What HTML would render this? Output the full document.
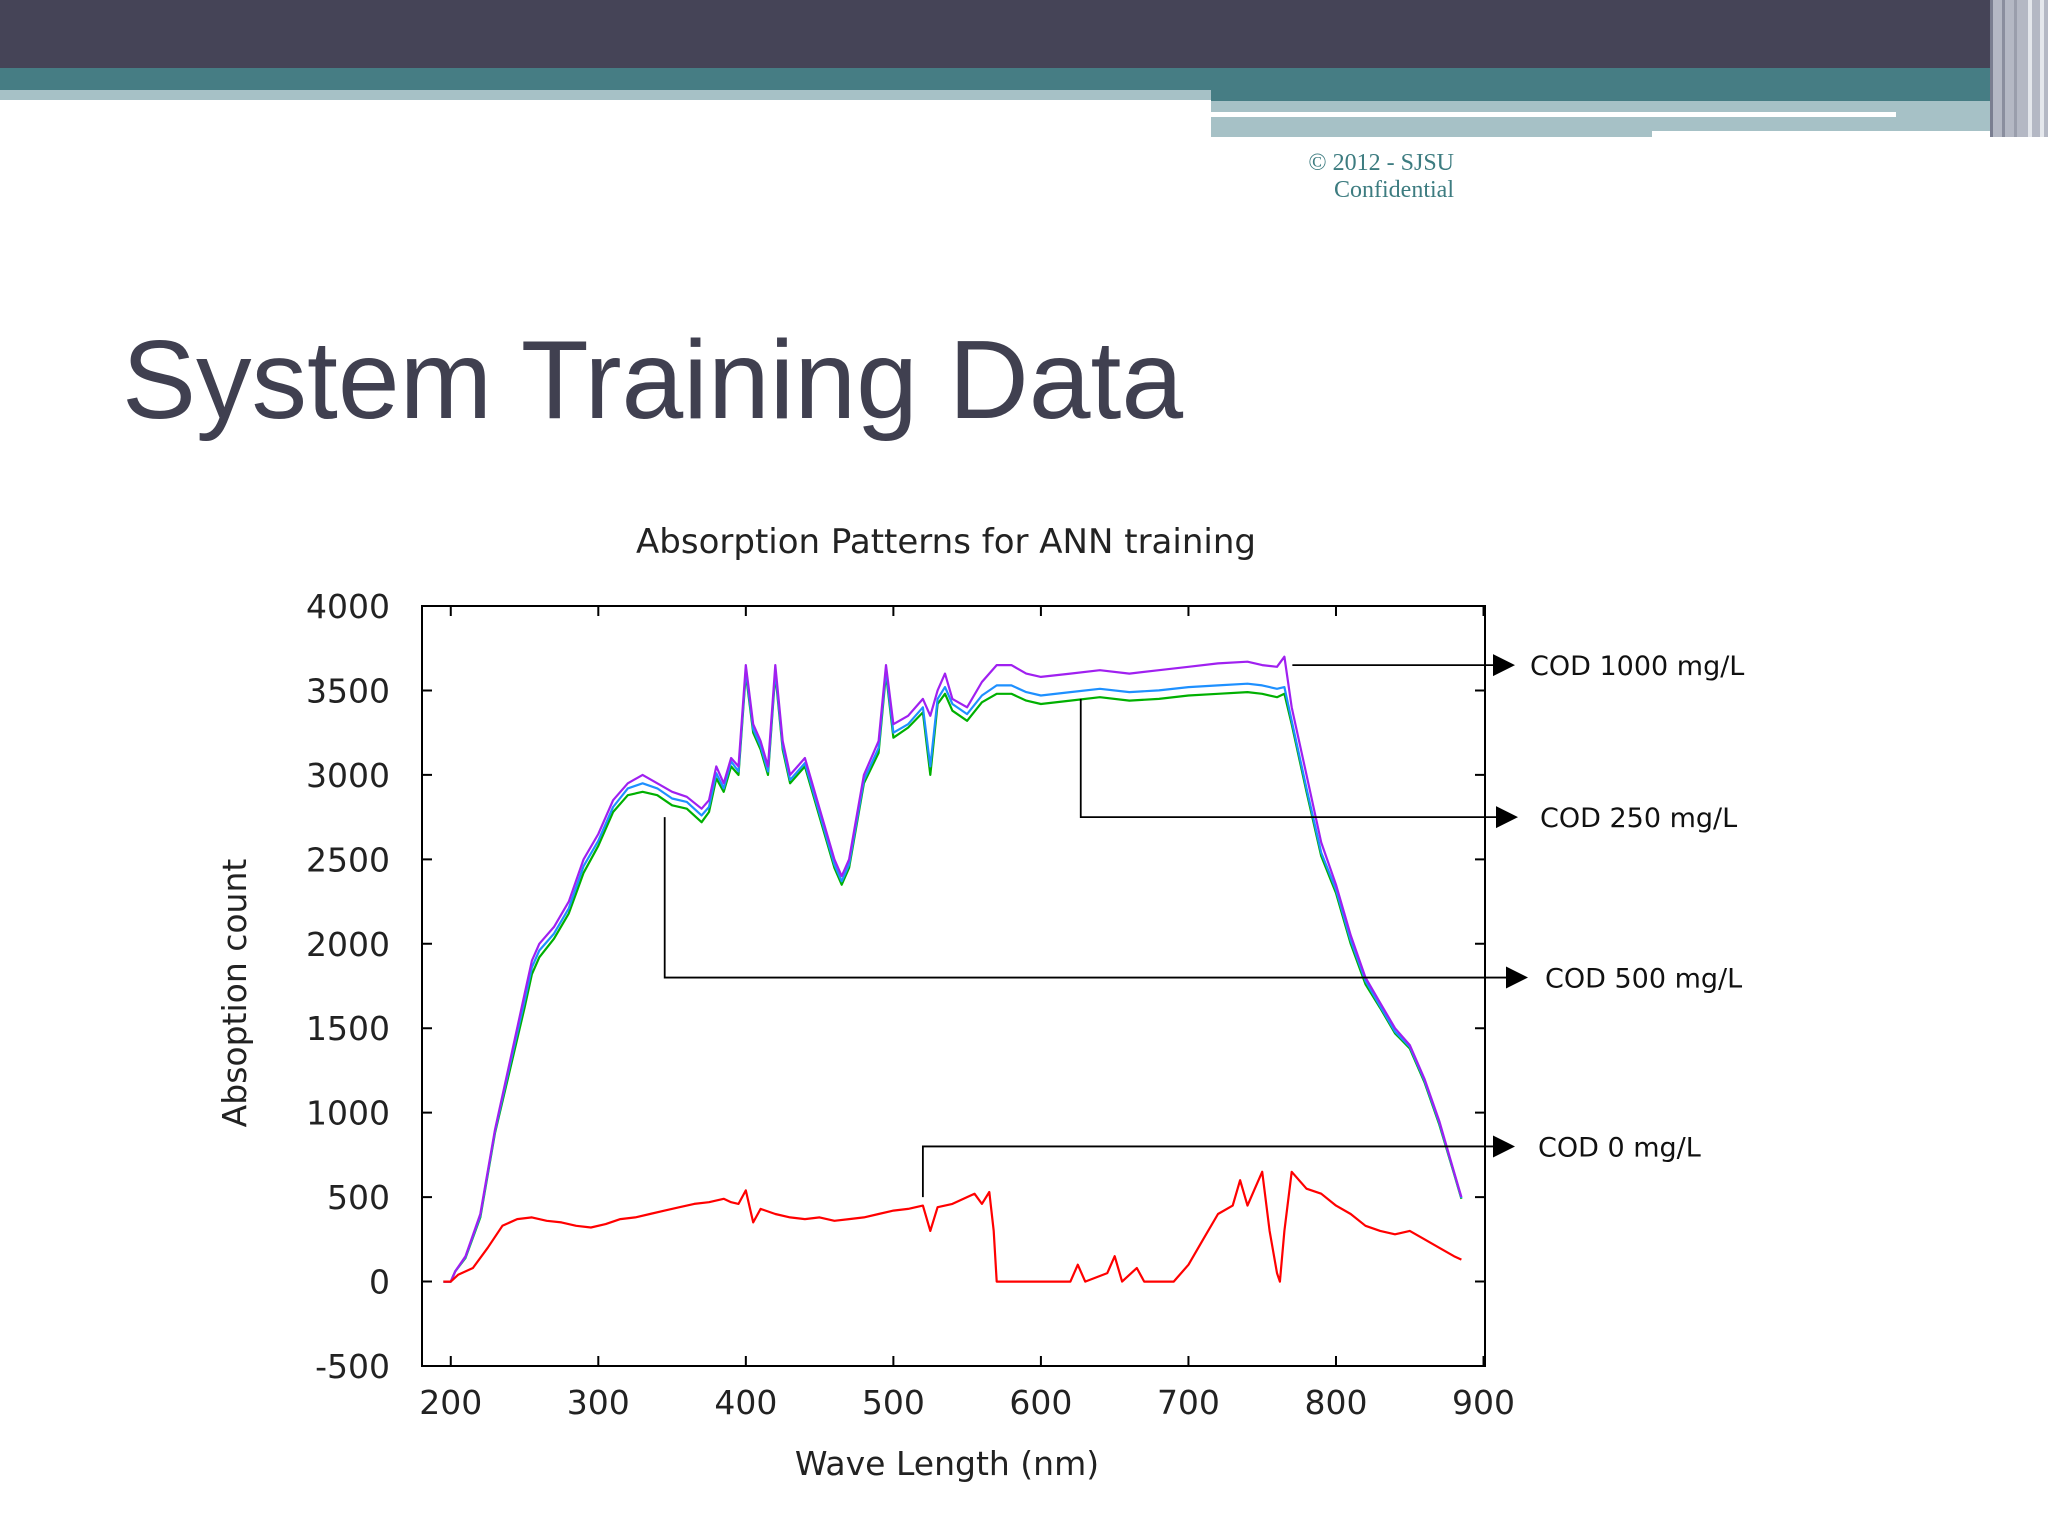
<!DOCTYPE html>
<html><head><meta charset="utf-8"><style>
html,body{margin:0;padding:0;background:#fff;width:2048px;height:1536px;overflow:hidden}
svg{display:block}
</style></head><body>
<svg id="s" width="2048" height="1536" viewBox="0 0 2048 1536" xmlns="http://www.w3.org/2000/svg">
<g>
<rect x="0" y="0" width="2048" height="68" fill="#454457"/>
<rect x="0" y="68" width="2048" height="22" fill="#467d84"/>
<rect x="0" y="90" width="1211" height="10" fill="#a6c1c6"/>
<rect x="1211" y="90" width="837" height="11" fill="#467d84"/>
<rect x="1211" y="101" width="780" height="36" fill="#a6c1c6"/>
<rect x="1211" y="112" width="685" height="5" fill="#ffffff"/>
<rect x="1652" y="131" width="358" height="6" fill="#ffffff"/>
<rect x="1990" y="0" width="58" height="137" fill="#b4b8c4"/>
<rect x="1990" y="0" width="3" height="137" fill="#7a7e90"/>
<rect x="2002" y="0" width="3" height="137" fill="#8a8e9e"/>
<rect x="2014" y="0" width="3" height="137" fill="#9a9eac"/>
<rect x="2028" y="0" width="4" height="137" fill="#e4e7ec"/>
<rect x="2040" y="0" width="4" height="137" fill="#e4e7ec"/>
</g>
<text x="1454" y="170" text-anchor="end" font-family="Liberation Serif, serif" font-size="24" fill="#3d7c80">© 2012 - SJSU</text>
<text x="1454" y="197" text-anchor="end" font-family="Liberation Serif, serif" font-size="24" fill="#3d7c80">Confidential</text>
<text x="122" y="418" font-family="Liberation Sans, sans-serif" font-size="111" fill="#404050">System Training Data</text>
<text x="946" y="553" text-anchor="middle" font-family="DejaVu Sans, sans-serif" font-size="34" fill="#222">Absorption Patterns for ANN training</text>
<text transform="translate(246,993) rotate(-90)" text-anchor="middle" font-family="DejaVu Sans, sans-serif" font-size="33" fill="#222">Absoption count</text>
<text x="947" y="1475" text-anchor="middle" font-family="DejaVu Sans, sans-serif" font-size="33" fill="#222">Wave Length (nm)</text>
<g id="plot"></g>
</svg>
<script>
const xTicks=[200,300,400,500,600,700,800,900];
const yTicks=[-500,0,500,1000,1500,2000,2500,3000,3500,4000];
const wl=[195,200,203,210,220,230,240,250,255,260,270,280,290,300,310,320,330,340,350,360,370,375,380,385,390,395,400,405,410,415,420,425,430,440,450,460,465,470,480,490,495,500,510,520,525,530,535,540,550,560,570,580,590,600,620,640,660,680,700,720,740,750,760,765,770,780,790,800,810,820,830,840,850,860,870,880,885];
const cod1000=[0,0,60,150,400,900,1300,1700,1900,2000,2100,2250,2500,2650,2850,2950,3000,2950,2900,2870,2800,2850,3050,2950,3100,3050,3650,3300,3200,3050,3650,3200,3000,3100,2800,2500,2400,2500,3000,3200,3650,3300,3350,3450,3350,3500,3600,3450,3400,3550,3650,3650,3600,3580,3600,3620,3600,3620,3640,3660,3670,3650,3640,3700,3400,3000,2600,2350,2050,1800,1650,1500,1400,1200,950,650,500];
const cod500=[0,0,60,140,380,880,1250,1620,1820,1920,2030,2180,2420,2580,2780,2880,2900,2880,2820,2800,2720,2780,2980,2900,3050,3000,3600,3250,3150,3000,3600,3150,2950,3050,2750,2450,2350,2450,2950,3130,3600,3220,3280,3370,3000,3420,3480,3380,3320,3430,3480,3480,3440,3420,3440,3460,3440,3450,3470,3480,3490,3480,3460,3480,3300,2900,2520,2300,2000,1760,1620,1470,1380,1180,930,640,490];
const cod250=[0,0,60,145,390,890,1280,1660,1860,1960,2060,2210,2460,2610,2810,2920,2950,2920,2860,2840,2760,2810,3010,2920,3080,3020,3620,3270,3170,3020,3620,3170,2970,3070,2770,2470,2370,2470,2970,3160,3620,3250,3300,3400,3050,3450,3520,3420,3360,3470,3530,3530,3490,3470,3490,3510,3490,3500,3520,3530,3540,3530,3510,3520,3320,2920,2540,2320,2020,1780,1630,1480,1390,1190,940,645,495];
const wl0=[195,200,205,215,225,235,245,255,265,275,285,295,305,315,325,335,345,355,365,375,385,390,395,400,405,410,420,430,440,450,460,470,480,490,500,510,520,525,530,540,550,555,560,565,568,570,580,620,625,630,645,650,655,665,670,690,700,710,720,730,735,740,745,750,755,760,762,765,770,780,790,800,810,820,830,840,850,860,870,880,885];
const cod0=[0,0,40,80,200,330,370,380,360,350,330,320,340,370,380,400,420,440,460,470,490,470,460,540,350,430,400,380,370,380,360,370,380,400,420,430,450,300,440,460,500,520,460,530,300,0,0,0,100,0,50,150,0,80,0,0,100,250,400,450,600,450,550,650,300,50,0,300,650,550,520,450,400,330,300,280,300,250,200,150,130];
const annLabels=["COD 1000 mg/L","COD 250 mg/L","COD 500 mg/L","COD 0 mg/L"];
const NS='http://www.w3.org/2000/svg';
const L=422,R=1485,T=606,B=1366,XMIN=180.5,XMAX=901,YMIN=-500,YMAX=4000;
const sx=v=>L+(v-XMIN)/(XMAX-XMIN)*(R-L);
const sy=v=>B-(v-YMIN)/(YMAX-YMIN)*(B-T);
const g=document.getElementById('plot');
function mk(tag,at){const e=document.createElementNS(NS,tag);for(const k in at)e.setAttribute(k,at[k]);g.appendChild(e);return e;}
const frame=mk('rect',{x:L,y:T,width:R-L,height:B-T,fill:'none',stroke:'#000','stroke-width':2});


xTicks.forEach(v=>{
 const t=mk('path',{d:`M${sx(v)},${B}v-10M${sx(v)},${T}v10`,stroke:'#000','stroke-width':2});
 
 
 const l=mk('text',{x:sx(v),y:B+48,'text-anchor':'middle','font-family':'DejaVu Sans, sans-serif','font-size':33,fill:'#222'});
 l.textContent=v;
 
 
});
yTicks.forEach(v=>{
 const t=mk('path',{d:`M${L},${sy(v)}h10M${R},${sy(v)}h-10`,stroke:'#000','stroke-width':2});
 
 
 const l=mk('text',{x:390,y:sy(v)+12,'text-anchor':'end','font-family':'DejaVu Sans, sans-serif','font-size':33,fill:'#222'});
 l.textContent=v;
 
 
});
function line(xs,ys,col,name){
 const p=mk('path',{d:xs.map((x,i)=>(i?'L':'M')+sx(x).toFixed(1)+','+sy(ys[i]).toFixed(1)).join(''),fill:'none',stroke:col,'stroke-width':2.2,'stroke-linejoin':'round'});
 
 
}
line(wl,cod500,'#00b000','series-cod-500');
line(wl,cod250,'#1e90ff','series-cod-250');
line(wl,cod1000,'#a020f0','series-cod-1000');
line(wl0,cod0,'#ff0000','series-cod-0');
const ann=[[765,3650,3650,1515,1530],[627,3450,2750,1518,1540],[345,2750,1800,1528,1545],[520,500,800,1515,1538]];
const names=['annotation-cod-1000','annotation-cod-250','annotation-cod-500','annotation-cod-0'];
ann.forEach((a,i)=>{
 const [x,y0,y1,ax,tx]=a;
 const d=(i===0)?`M${sx(x)+8},${sy(y1)}H${ax-20}`:`M${sx(x)},${sy(y0)}V${sy(y1)}H${ax-20}`;
 const p=mk('path',{d:d,fill:'none',stroke:'#000','stroke-width':1.8});
 
 
 const h=mk('path',{d:`M${ax-22},${sy(y1)-11}L${ax},${sy(y1)}L${ax-22},${sy(y1)+11}Z`,fill:'#000'});
 
 
 const t=mk('text',{x:tx,y:sy(y1)+10,'font-family':'DejaVu Sans, sans-serif','font-size':27,fill:'#111'});
 t.textContent=annLabels[i];
 
 
});
</script>
</body></html>
